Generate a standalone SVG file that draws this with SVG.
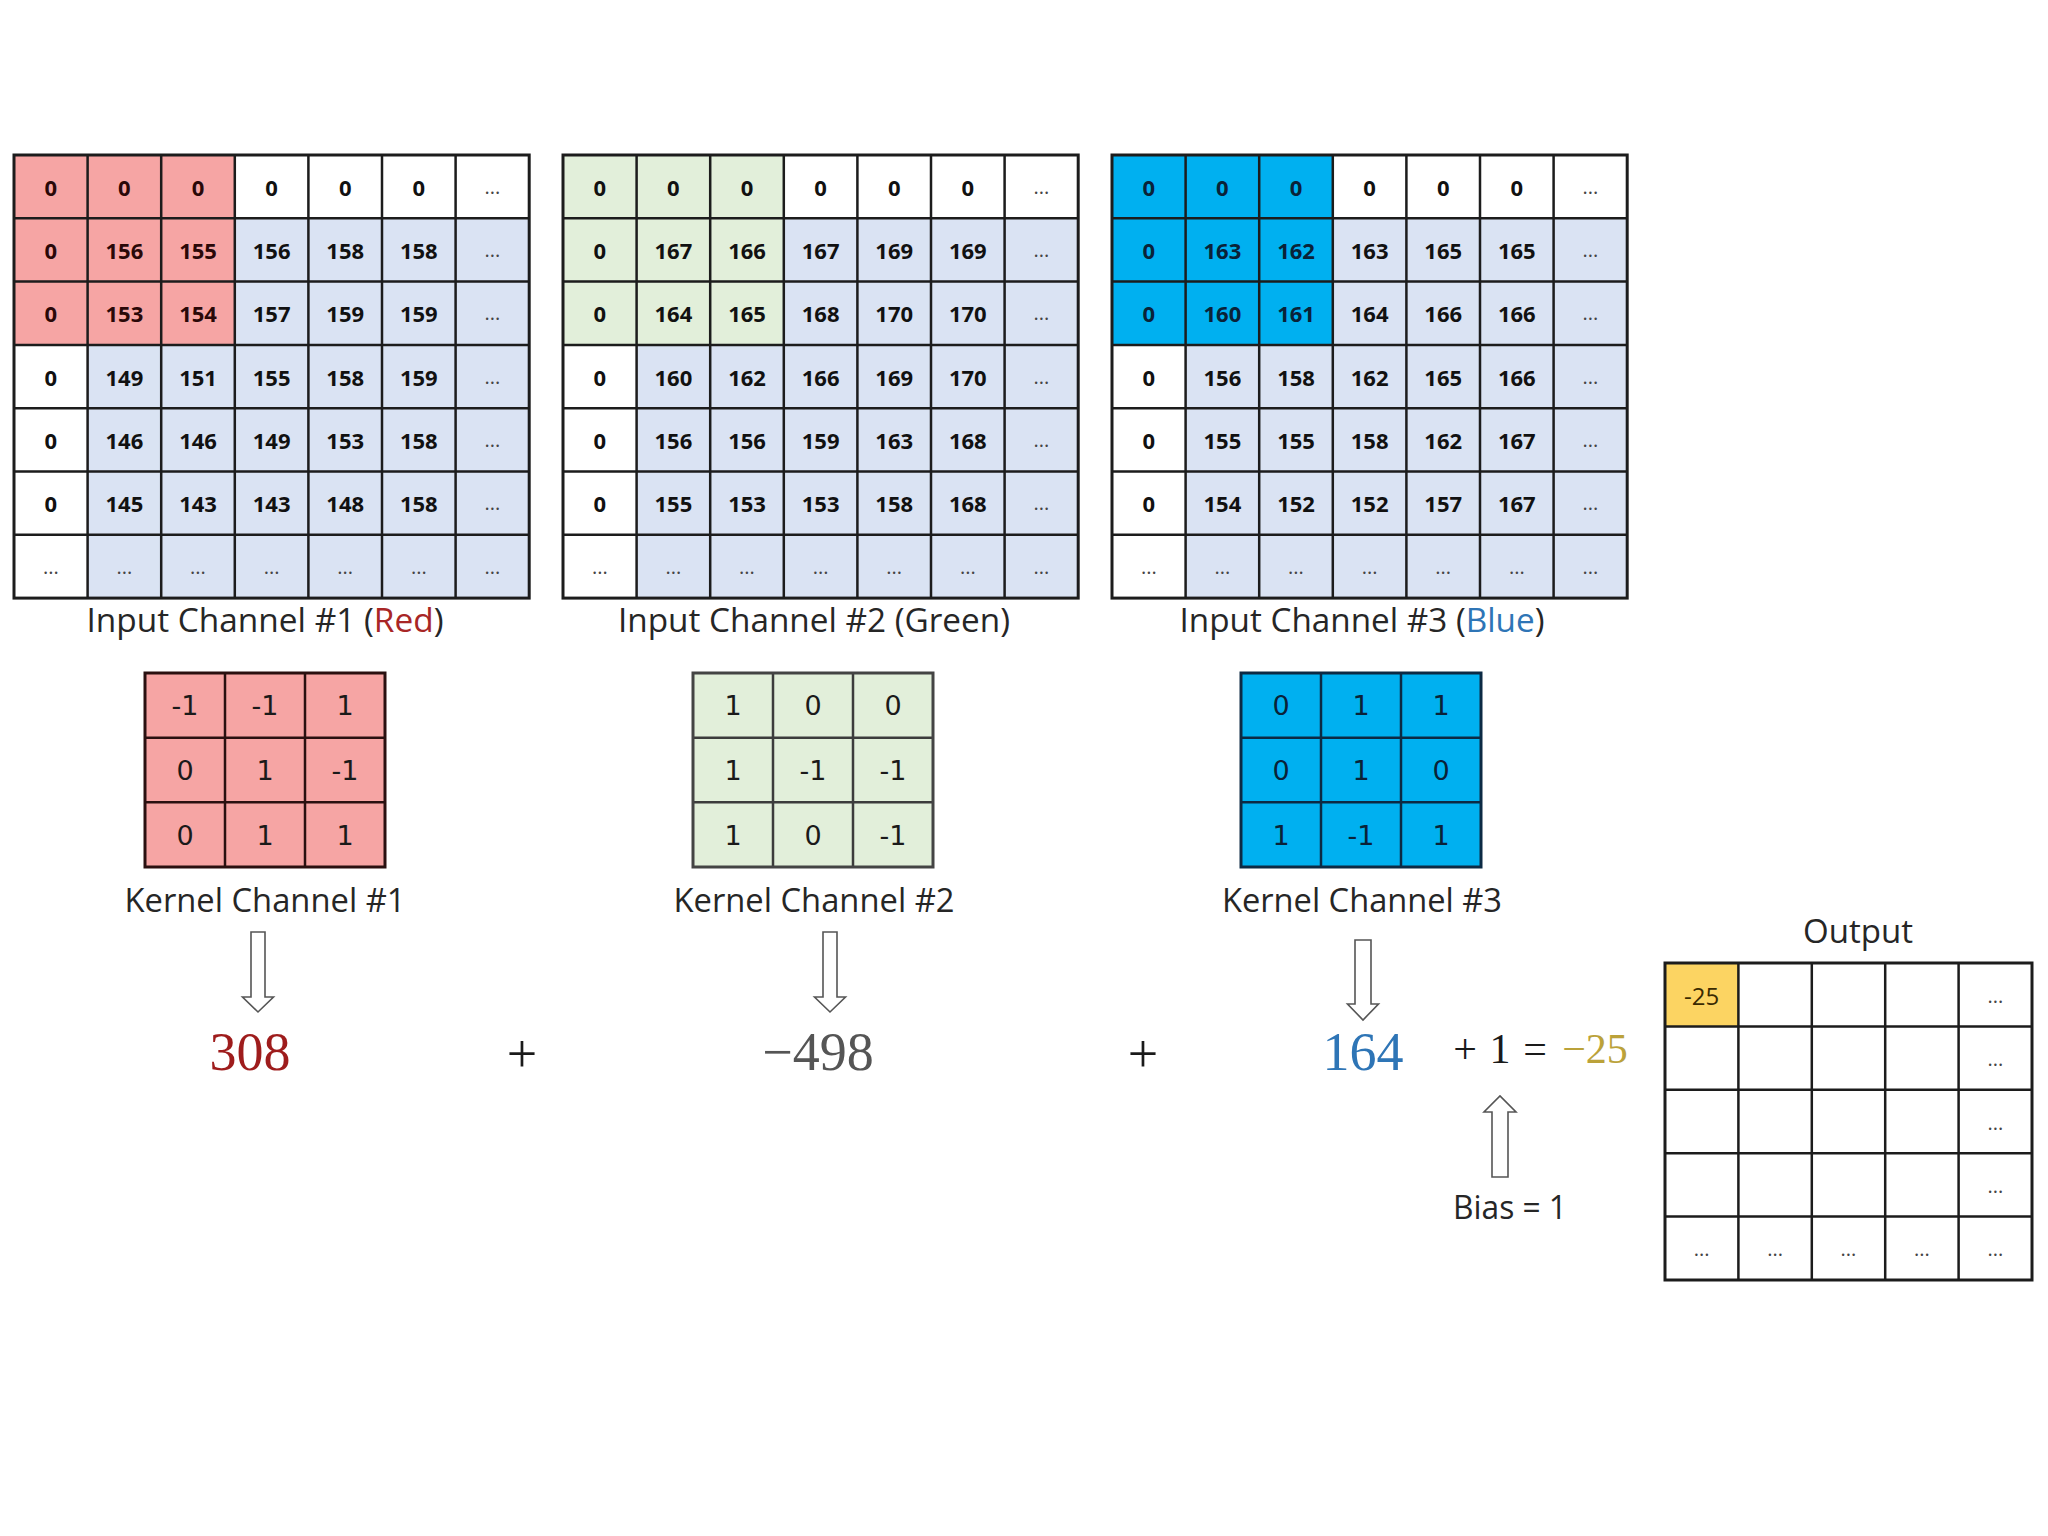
<svg xmlns="http://www.w3.org/2000/svg" width="2048" height="1536" viewBox="0 0 2048 1536">
<style>
.gb{fill:#DAE3F3}
.red{fill:#F6A5A4}
.grn{fill:#E2EFDA}
.blu{fill:#00B0F0}
.yel{fill:#FCD462}
.ln{fill:none;stroke:#1c1c1c;stroke-width:2.5}
.ob{fill:none;stroke:#1c1c1c;stroke-width:3}
.n{font-family:"Open Sans","Liberation Sans",sans-serif;font-weight:700;font-size:22px;text-anchor:middle;fill:#111}
.nr{fill:#2a0808}
.nb{fill:#0a2238}
.d{font-family:"Open Sans","Liberation Sans",sans-serif;font-size:20px;text-anchor:middle;fill:#444}
.k{font-family:"DejaVu Sans","Liberation Sans",sans-serif;font-size:27px;text-anchor:middle;fill:#1a1a1a}
.lbl{font-family:"Open Sans","Liberation Sans",sans-serif;font-size:32px;text-anchor:middle;fill:#262626}
.big{font-family:"Liberation Serif","DejaVu Serif",serif;font-size:54px;text-anchor:middle}
.eq{font-family:"Liberation Serif","DejaVu Serif",serif;font-size:42px;text-anchor:middle;fill:#1a1a1a}
.arr{fill:#fff;stroke:#555;stroke-width:1.6;stroke-linejoin:miter}
</style>

<g id="input1" transform="translate(14,0)">
<rect x="0" y="155" width="515.2" height="443.1" fill="#fff"/>
<rect x="73.6" y="218.3" width="441.6" height="379.8" class="gb"/>
<rect x="0" y="155" width="220.8" height="189.9" class="red"/>
<path class="ln" d="M73.6 155V598.1M147.2 155V598.1M220.8 155V598.1M294.4 155V598.1M368 155V598.1M441.6 155V598.1M0 218.3H515.2M0 281.6H515.2M0 344.9H515.2M0 408.2H515.2M0 471.5H515.2M0 534.8H515.2"/>
<rect class="ob" x="0" y="155" width="515.2" height="443.1"/>
<text class="n nr" x="36.8" y="195.7">0</text><text class="n nr" x="110.4" y="195.7">0</text><text class="n nr" x="184" y="195.7">0</text><text class="n" x="257.6" y="195.7">0</text><text class="n" x="331.2" y="195.7">0</text><text class="n" x="404.8" y="195.7">0</text><text class="d" x="478.4" y="193.7">...</text>
<text class="n nr" x="36.8" y="259">0</text><text class="n nr" x="110.4" y="259">156</text><text class="n nr" x="184" y="259">155</text><text class="n" x="257.6" y="259">156</text><text class="n" x="331.2" y="259">158</text><text class="n" x="404.8" y="259">158</text><text class="d" x="478.4" y="257">...</text>
<text class="n nr" x="36.8" y="322.3">0</text><text class="n nr" x="110.4" y="322.3">153</text><text class="n nr" x="184" y="322.3">154</text><text class="n" x="257.6" y="322.3">157</text><text class="n" x="331.2" y="322.3">159</text><text class="n" x="404.8" y="322.3">159</text><text class="d" x="478.4" y="320.3">...</text>
<text class="n" x="36.8" y="385.6">0</text><text class="n" x="110.4" y="385.6">149</text><text class="n" x="184" y="385.6">151</text><text class="n" x="257.6" y="385.6">155</text><text class="n" x="331.2" y="385.6">158</text><text class="n" x="404.8" y="385.6">159</text><text class="d" x="478.4" y="383.6">...</text>
<text class="n" x="36.8" y="448.9">0</text><text class="n" x="110.4" y="448.9">146</text><text class="n" x="184" y="448.9">146</text><text class="n" x="257.6" y="448.9">149</text><text class="n" x="331.2" y="448.9">153</text><text class="n" x="404.8" y="448.9">158</text><text class="d" x="478.4" y="446.9">...</text>
<text class="n" x="36.8" y="512.2">0</text><text class="n" x="110.4" y="512.2">145</text><text class="n" x="184" y="512.2">143</text><text class="n" x="257.6" y="512.2">143</text><text class="n" x="331.2" y="512.2">148</text><text class="n" x="404.8" y="512.2">158</text><text class="d" x="478.4" y="510.2">...</text>
<text class="d" x="36.8" y="573.5">...</text><text class="d" x="110.4" y="573.5">...</text><text class="d" x="184" y="573.5">...</text><text class="d" x="257.6" y="573.5">...</text><text class="d" x="331.2" y="573.5">...</text><text class="d" x="404.8" y="573.5">...</text><text class="d" x="478.4" y="573.5">...</text>
</g>
<text id="label-input1" class="lbl" x="265" y="632" textLength="357" lengthAdjust="spacingAndGlyphs">Input Channel #1 (<tspan style="fill:#A82626">Red</tspan>)</text>

<g id="input2" transform="translate(563,0)">
<rect x="0" y="155" width="515.2" height="443.1" fill="#fff"/>
<rect x="73.6" y="218.3" width="441.6" height="379.8" class="gb"/>
<rect x="0" y="155" width="220.8" height="189.9" class="grn"/>
<path class="ln" d="M73.6 155V598.1M147.2 155V598.1M220.8 155V598.1M294.4 155V598.1M368 155V598.1M441.6 155V598.1M0 218.3H515.2M0 281.6H515.2M0 344.9H515.2M0 408.2H515.2M0 471.5H515.2M0 534.8H515.2"/>
<rect class="ob" x="0" y="155" width="515.2" height="443.1"/>
<text class="n" x="36.8" y="195.7">0</text><text class="n" x="110.4" y="195.7">0</text><text class="n" x="184" y="195.7">0</text><text class="n" x="257.6" y="195.7">0</text><text class="n" x="331.2" y="195.7">0</text><text class="n" x="404.8" y="195.7">0</text><text class="d" x="478.4" y="193.7">...</text>
<text class="n" x="36.8" y="259">0</text><text class="n" x="110.4" y="259">167</text><text class="n" x="184" y="259">166</text><text class="n" x="257.6" y="259">167</text><text class="n" x="331.2" y="259">169</text><text class="n" x="404.8" y="259">169</text><text class="d" x="478.4" y="257">...</text>
<text class="n" x="36.8" y="322.3">0</text><text class="n" x="110.4" y="322.3">164</text><text class="n" x="184" y="322.3">165</text><text class="n" x="257.6" y="322.3">168</text><text class="n" x="331.2" y="322.3">170</text><text class="n" x="404.8" y="322.3">170</text><text class="d" x="478.4" y="320.3">...</text>
<text class="n" x="36.8" y="385.6">0</text><text class="n" x="110.4" y="385.6">160</text><text class="n" x="184" y="385.6">162</text><text class="n" x="257.6" y="385.6">166</text><text class="n" x="331.2" y="385.6">169</text><text class="n" x="404.8" y="385.6">170</text><text class="d" x="478.4" y="383.6">...</text>
<text class="n" x="36.8" y="448.9">0</text><text class="n" x="110.4" y="448.9">156</text><text class="n" x="184" y="448.9">156</text><text class="n" x="257.6" y="448.9">159</text><text class="n" x="331.2" y="448.9">163</text><text class="n" x="404.8" y="448.9">168</text><text class="d" x="478.4" y="446.9">...</text>
<text class="n" x="36.8" y="512.2">0</text><text class="n" x="110.4" y="512.2">155</text><text class="n" x="184" y="512.2">153</text><text class="n" x="257.6" y="512.2">153</text><text class="n" x="331.2" y="512.2">158</text><text class="n" x="404.8" y="512.2">168</text><text class="d" x="478.4" y="510.2">...</text>
<text class="d" x="36.8" y="573.5">...</text><text class="d" x="110.4" y="573.5">...</text><text class="d" x="184" y="573.5">...</text><text class="d" x="257.6" y="573.5">...</text><text class="d" x="331.2" y="573.5">...</text><text class="d" x="404.8" y="573.5">...</text><text class="d" x="478.4" y="573.5">...</text>
</g>
<text id="label-input2" class="lbl" x="814" y="632" textLength="392" lengthAdjust="spacingAndGlyphs">Input Channel #2 (Green)</text>

<g id="input3" transform="translate(1112,0)">
<rect x="0" y="155" width="515.2" height="443.1" fill="#fff"/>
<rect x="73.6" y="218.3" width="441.6" height="379.8" class="gb"/>
<rect x="0" y="155" width="220.8" height="189.9" class="blu"/>
<path class="ln" d="M73.6 155V598.1M147.2 155V598.1M220.8 155V598.1M294.4 155V598.1M368 155V598.1M441.6 155V598.1M0 218.3H515.2M0 281.6H515.2M0 344.9H515.2M0 408.2H515.2M0 471.5H515.2M0 534.8H515.2"/>
<rect class="ob" x="0" y="155" width="515.2" height="443.1"/>
<text class="n nb" x="36.8" y="195.7">0</text><text class="n nb" x="110.4" y="195.7">0</text><text class="n nb" x="184" y="195.7">0</text><text class="n" x="257.6" y="195.7">0</text><text class="n" x="331.2" y="195.7">0</text><text class="n" x="404.8" y="195.7">0</text><text class="d" x="478.4" y="193.7">...</text>
<text class="n nb" x="36.8" y="259">0</text><text class="n nb" x="110.4" y="259">163</text><text class="n nb" x="184" y="259">162</text><text class="n" x="257.6" y="259">163</text><text class="n" x="331.2" y="259">165</text><text class="n" x="404.8" y="259">165</text><text class="d" x="478.4" y="257">...</text>
<text class="n nb" x="36.8" y="322.3">0</text><text class="n nb" x="110.4" y="322.3">160</text><text class="n nb" x="184" y="322.3">161</text><text class="n" x="257.6" y="322.3">164</text><text class="n" x="331.2" y="322.3">166</text><text class="n" x="404.8" y="322.3">166</text><text class="d" x="478.4" y="320.3">...</text>
<text class="n" x="36.8" y="385.6">0</text><text class="n" x="110.4" y="385.6">156</text><text class="n" x="184" y="385.6">158</text><text class="n" x="257.6" y="385.6">162</text><text class="n" x="331.2" y="385.6">165</text><text class="n" x="404.8" y="385.6">166</text><text class="d" x="478.4" y="383.6">...</text>
<text class="n" x="36.8" y="448.9">0</text><text class="n" x="110.4" y="448.9">155</text><text class="n" x="184" y="448.9">155</text><text class="n" x="257.6" y="448.9">158</text><text class="n" x="331.2" y="448.9">162</text><text class="n" x="404.8" y="448.9">167</text><text class="d" x="478.4" y="446.9">...</text>
<text class="n" x="36.8" y="512.2">0</text><text class="n" x="110.4" y="512.2">154</text><text class="n" x="184" y="512.2">152</text><text class="n" x="257.6" y="512.2">152</text><text class="n" x="331.2" y="512.2">157</text><text class="n" x="404.8" y="512.2">167</text><text class="d" x="478.4" y="510.2">...</text>
<text class="d" x="36.8" y="573.5">...</text><text class="d" x="110.4" y="573.5">...</text><text class="d" x="184" y="573.5">...</text><text class="d" x="257.6" y="573.5">...</text><text class="d" x="331.2" y="573.5">...</text><text class="d" x="404.8" y="573.5">...</text><text class="d" x="478.4" y="573.5">...</text>
</g>
<text id="label-input3" class="lbl" x="1362" y="632" textLength="365" lengthAdjust="spacingAndGlyphs">Input Channel #3 (<tspan style="fill:#2E75B6">Blue</tspan>)</text>

<g id="kernel1" transform="translate(145,0)">
<rect x="0" y="673" width="240" height="194" class="red"/>
<path class="ln" style="stroke:#2a1010" d="M80 673V867M160 673V867M0 737.7H240M0 802.3H240"/>
<rect class="ob" style="stroke:#2a1010" x="0" y="673" width="240" height="194"/>
<text class="k" x="40" y="715">-1</text><text class="k" x="120" y="715">-1</text><text class="k" x="200" y="715">1</text>
<text class="k" x="40" y="780">0</text><text class="k" x="120" y="780">1</text><text class="k" x="200" y="780">-1</text>
<text class="k" x="40" y="845">0</text><text class="k" x="120" y="845">1</text><text class="k" x="200" y="845">1</text>
</g>
<text id="label-kernel1" class="lbl" x="265" y="912" textLength="281" lengthAdjust="spacingAndGlyphs">Kernel Channel #1</text>

<g id="kernel2" transform="translate(693,0)">
<rect x="0" y="673" width="240" height="194" class="grn"/>
<path class="ln" style="stroke:#3c3c3c" d="M80 673V867M160 673V867M0 737.7H240M0 802.3H240"/>
<rect class="ob" style="stroke:#444" x="0" y="673" width="240" height="194"/>
<text class="k" x="40" y="715">1</text><text class="k" x="120" y="715">0</text><text class="k" x="200" y="715">0</text>
<text class="k" x="40" y="780">1</text><text class="k" x="120" y="780">-1</text><text class="k" x="200" y="780">-1</text>
<text class="k" x="40" y="845">1</text><text class="k" x="120" y="845">0</text><text class="k" x="200" y="845">-1</text>
</g>
<text id="label-kernel2" class="lbl" x="814" y="912" textLength="281" lengthAdjust="spacingAndGlyphs">Kernel Channel #2</text>

<g id="kernel3" transform="translate(1241,0)">
<rect x="0" y="673" width="240" height="194" class="blu"/>
<path class="ln" style="stroke:#0c2a44" d="M80 673V867M160 673V867M0 737.7H240M0 802.3H240"/>
<rect class="ob" style="stroke:#0c2a44" x="0" y="673" width="240" height="194"/>
<text class="k" style="fill:#0a2238" x="40" y="715">0</text><text class="k" style="fill:#0a2238" x="120" y="715">1</text><text class="k" style="fill:#0a2238" x="200" y="715">1</text>
<text class="k" style="fill:#0a2238" x="40" y="780">0</text><text class="k" style="fill:#0a2238" x="120" y="780">1</text><text class="k" style="fill:#0a2238" x="200" y="780">0</text>
<text class="k" style="fill:#0a2238" x="40" y="845">1</text><text class="k" style="fill:#0a2238" x="120" y="845">-1</text><text class="k" style="fill:#0a2238" x="200" y="845">1</text>
</g>
<text id="label-kernel3" class="lbl" x="1362" y="912" textLength="280" lengthAdjust="spacingAndGlyphs">Kernel Channel #3</text>

<g id="connectors">
<path class="arr" d="M251 932H265V997H273.5L258 1012L242.5 997H251Z"/>
<path class="arr" d="M823 932H837V997H845.5L830 1012L814.5 997H823Z"/>
<path class="arr" d="M1355 940H1371V1004H1378.5L1363 1020L1347.5 1004H1355Z"/>
<path class="arr" d="M1492 1177H1508V1112H1516L1500 1096L1484 1112H1492Z"/>
</g>

<g id="sum">
<text class="big" x="250" y="1070" style="fill:#9E1C1C">308</text>
<text class="big" x="522" y="1072" style="fill:#1a1a1a">+</text>
<text class="big" x="818" y="1070" style="fill:#555555">−498</text>
<text class="big" x="1143" y="1072" style="fill:#1a1a1a">+</text>
<text class="big" x="1363" y="1070" style="fill:#2E75B6">164</text>
<text class="eq" x="1465" y="1063">+</text>
<text class="eq" x="1500" y="1063">1</text>
<text class="eq" x="1535" y="1063">=</text>
<text class="eq" x="1595" y="1063" style="fill:#BBA23A">−25</text>
</g>

<text id="label-bias" class="lbl" x="1510" y="1219" textLength="114" lengthAdjust="spacingAndGlyphs">Bias = 1</text>

<text id="label-output" class="lbl" x="1858" y="943" textLength="110" lengthAdjust="spacingAndGlyphs">Output</text>
<g id="output">
<rect x="1665" y="963" width="367" height="317" fill="#fff"/>
<rect x="1665" y="963" width="73.4" height="63.4" class="yel"/>
<path class="ln" d="M1738.4 963V1280M1811.8 963V1280M1885.2 963V1280M1958.6 963V1280M1665 1026.4H2032M1665 1089.8H2032M1665 1153.2H2032M1665 1216.6H2032"/>
<rect class="ob" x="1665" y="963" width="367" height="317"/>
<text x="1701.7" y="1005" font-family="'Open Sans','Liberation Sans',sans-serif" font-size="24" text-anchor="middle" fill="#3a2a00">-25</text>
<text class="d" x="1995.3" y="1003">...</text>
<text class="d" x="1995.3" y="1066">...</text>
<text class="d" x="1995.3" y="1130">...</text>
<text class="d" x="1995.3" y="1193">...</text>
<text class="d" x="1701.7" y="1256">...</text><text class="d" x="1775.1" y="1256">...</text><text class="d" x="1848.5" y="1256">...</text><text class="d" x="1921.9" y="1256">...</text><text class="d" x="1995.3" y="1256">...</text>
</g>
</svg>
